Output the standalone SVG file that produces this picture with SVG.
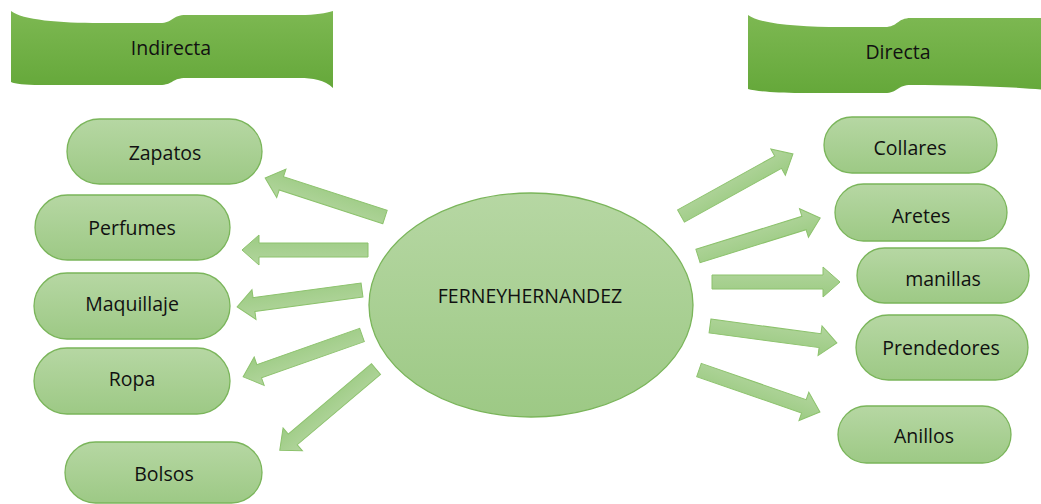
<svg xmlns="http://www.w3.org/2000/svg" width="1041" height="504" viewBox="0 0 1041 504">
  <defs>
    <linearGradient id="nodeGrad" x1="0" y1="0" x2="0" y2="1">
      <stop offset="0" stop-color="#b6d7a3"/>
      <stop offset="1" stop-color="#9dc985"/>
    </linearGradient>
    <linearGradient id="arrowGrad" x1="0" y1="0" x2="0" y2="1">
      <stop offset="0" stop-color="#b2d59d"/>
      <stop offset="1" stop-color="#9ccb83"/>
    </linearGradient>
    <linearGradient id="bannerGrad" x1="0" y1="0" x2="0" y2="1">
      <stop offset="0" stop-color="#7db852"/>
      <stop offset="1" stop-color="#65a83a"/>
    </linearGradient>
  </defs>
  <style>
    .node { fill: url(#nodeGrad); stroke: #7ab55a; stroke-width: 1.3; }
    .banner { fill: url(#bannerGrad); stroke: none; }
    .arrow { fill: url(#arrowGrad); stroke: #8cc26c; stroke-width: 1; }
    .lbl { font-family: "Open Sans", "Liberation Sans", sans-serif; font-size: 19.5px; fill: #111111; text-anchor: middle; dominant-baseline: central; }
  </style>

  <g id="banner-indirecta">
    <path class="banner" d="M11,11 C22,20 60,23 100,23 L160,23 C173,23 172,15 186,15 L300,15 C316,15 326,13 333,11 L333,88 C325,80 312,78 300,78 L186,78 C172,78 173,85 160,85 L40,85 C25,85 15,84 11,82 Z"/>
    <text class="lbl" x="171" y="47">Indirecta</text>
  </g>
  <g id="banner-directa">
    <path class="banner" d="M748,15 C760,24 800,27 840,27 L885,27 C898,27 897,18 911,18 L1045,18 L1045,90 C1020,87 960,85 911,85 C897,85 898,93 885,93 L800,93 C775,93 755,91 748,89 Z"/>
    <text class="lbl" x="898" y="51">Directa</text>
  </g>

  <g id="connectors">
    <polygon class="arrow" transform="translate(385,217) rotate(-162)" points="0,-7 109,-7 109,-15 126,0 109,15 109,7 0,7"/>
    <polygon class="arrow" transform="translate(368,250) rotate(180)" points="0,-7 109,-7 109,-15 126,0 109,15 109,7 0,7"/>
    <polygon class="arrow" transform="translate(362,290) rotate(172.3)" points="0,-7 109,-7 109,-15 126,0 109,15 109,7 0,7"/>
    <polygon class="arrow" transform="translate(362,335) rotate(160.6)" points="0,-7 109,-7 109,-15 126,0 109,15 109,7 0,7"/>
    <polygon class="arrow" transform="translate(376,369) rotate(139.8)" points="0,-7 109,-7 109,-15 126,0 109,15 109,7 0,7"/>
    <polygon class="arrow" transform="translate(681,216) rotate(-29)" points="0,-7 111,-7 111,-15 128,0 111,15 111,7 0,7"/>
    <polygon class="arrow" transform="translate(698,256) rotate(-17.3)" points="0,-7 111,-7 111,-15 128,0 111,15 111,7 0,7"/>
    <polygon class="arrow" transform="translate(712,282) rotate(0)" points="0,-7 111,-7 111,-15 128,0 111,15 111,7 0,7"/>
    <polygon class="arrow" transform="translate(710,326) rotate(7.6)" points="0,-7 111,-7 111,-15 128,0 111,15 111,7 0,7"/>
    <polygon class="arrow" transform="translate(699,370) rotate(19.1)" points="0,-7 111,-7 111,-15 128,0 111,15 111,7 0,7"/>
  </g>

  <g id="center">
    <ellipse class="node" cx="531" cy="305" rx="162" ry="112"/>
    <text class="lbl" x="530" y="295">FERNEYHERNANDEZ</text>
  </g>

  <g id="zapatos">
    <rect class="node" x="67" y="119" width="195" height="65" rx="32.5"/>
    <text class="lbl" x="165" y="152">Zapatos</text>
  </g>
  <g id="perfumes">
    <rect class="node" x="35" y="195" width="195" height="65" rx="32.5"/>
    <text class="lbl" x="132" y="227">Perfumes</text>
  </g>
  <g id="maquillaje">
    <rect class="node" x="34" y="273" width="196" height="66" rx="33"/>
    <text class="lbl" x="132" y="303">Maquillaje</text>
  </g>
  <g id="ropa">
    <rect class="node" x="34" y="348" width="196" height="66" rx="33"/>
    <text class="lbl" x="132" y="378">Ropa</text>
  </g>
  <g id="bolsos">
    <rect class="node" x="65" y="442" width="197" height="61" rx="30.5"/>
    <text class="lbl" x="164" y="473">Bolsos</text>
  </g>

  <g id="collares">
    <rect class="node" x="824" y="117" width="173" height="56" rx="28"/>
    <text class="lbl" x="910" y="147">Collares</text>
  </g>
  <g id="aretes">
    <rect class="node" x="835" y="184" width="172" height="57" rx="28.5"/>
    <text class="lbl" x="921" y="215">Aretes</text>
  </g>
  <g id="manillas">
    <rect class="node" x="857" y="248" width="172" height="55" rx="27.5"/>
    <text class="lbl" x="943" y="278">manillas</text>
  </g>
  <g id="prendedores">
    <rect class="node" x="856" y="315" width="172" height="65" rx="32.5"/>
    <text class="lbl" x="941" y="347">Prendedores</text>
  </g>
  <g id="anillos">
    <rect class="node" x="838" y="406" width="173" height="57" rx="28.5"/>
    <text class="lbl" x="924" y="435">Anillos</text>
  </g>
</svg>
